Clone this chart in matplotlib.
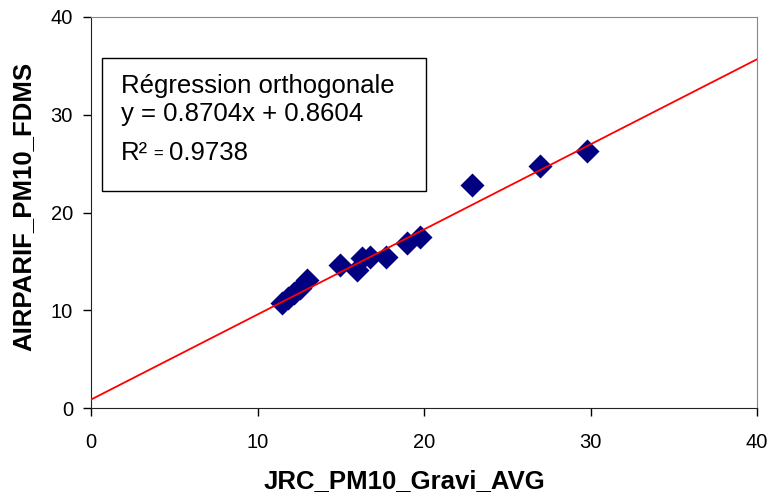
import matplotlib
matplotlib.use("Agg")
import matplotlib.pyplot as plt
import numpy as np

# JRC gravimetric vs AIRPARIF FDMS PM10
jrc_x = [11.47, 11.83, 12.2, 12.56, 13.0, 14.95, 16.0, 16.3, 16.75, 17.7, 19.0, 19.75, 22.9, 26.97, 29.8]
airparif_y = [10.74, 11.25, 11.76, 12.28, 13.1, 14.6, 14.1, 15.3, 15.4, 15.4, 16.9, 17.5, 22.8, 24.8, 26.3]

slope = 0.8704
intercept = 0.8604
r2 = 0.9738

plt.rcParams["font.family"] = ["Liberation Sans", "DejaVu Sans"]

W, H = 770, 499
fig = plt.figure(figsize=(W / 100, H / 100), dpi=100)
ax = fig.add_axes([91 / W, (H - 408) / H, 666 / W, 391 / H])


def ax_frac(px, py):
    # pixel position in the image -> axes fraction
    return (px - 91) / 666, (408 - py) / 391


ax.scatter(jrc_x, airparif_y, marker="D", s=150, color="#000080", zorder=3, linewidths=0)
line_x = np.array([0, 40])
ax.plot(line_x, slope * line_x + intercept, color="red", linewidth=1.3, zorder=4)

ax.set_xlim(0, 40)
ax.set_ylim(0, 40)
ax.set_xticks([0, 10, 20, 30, 40])
ax.set_yticks([0, 10, 20, 30, 40])
ax.tick_params(direction="out", length=6, width=1, labelsize=14.5)
ax.tick_params(axis="x", pad=12)
ax.tick_params(axis="y", pad=7)
ax.spines["left"].set_color("#222222")
ax.spines["bottom"].set_color("#222222")
ax.spines["top"].set_color("#888888")
ax.spines["right"].set_color("#888888")

ax.set_xlabel("JRC_PM10_Gravi_AVG", fontsize=18.5, fontweight="bold")
ax.set_ylabel("AIRPARIF_PM10_FDMS", fontsize=18.5, fontweight="bold")
ax.xaxis.set_label_coords(*ax_frac(404, 481))
ax.yaxis.set_label_coords(*ax_frac(23, 206))
ax.xaxis.label.set_va("center")
ax.yaxis.label.set_va("center")

box = plt.Rectangle(ax_frac(102, 191), 324 / 666, 133 / 391,
                    transform=ax.transAxes, fill=False, edgecolor="black", linewidth=1, zorder=5)
ax.add_patch(box)

text_kw = dict(transform=ax.transAxes, ha="left", va="baseline", fontsize=18.5, zorder=6)
ax.text(*ax_frac(121, 93), "Régression orthogonale", **text_kw)
ax.text(*ax_frac(121, 121), "y = %.4fx + %.4f" % (slope, intercept), **text_kw)
ax.text(*ax_frac(121, 160), "R²", **text_kw)
ax.text(*ax_frac(153, 159), "=", transform=ax.transAxes, ha="left", va="baseline", fontsize=12, zorder=6)
ax.text(*ax_frac(169, 160), "%.4f" % r2, **text_kw)

fig.savefig("out.png", dpi=100)
